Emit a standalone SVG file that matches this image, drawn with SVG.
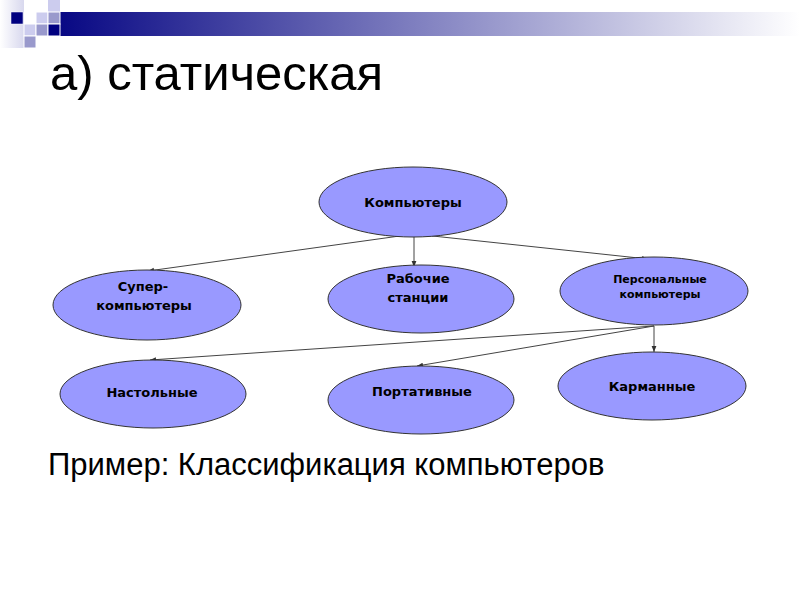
<svg xmlns="http://www.w3.org/2000/svg" width="800" height="600" viewBox="0 0 800 600">
<defs>
<linearGradient id="bar" x1="0" y1="0" x2="1" y2="0">
<stop offset="0" stop-color="#000080"/>
<stop offset="0.5" stop-color="#8080c0"/>
<stop offset="1" stop-color="#ffffff"/>
</linearGradient>
<linearGradient id="fade" x1="0" y1="0" x2="1" y2="0">
<stop offset="0" stop-color="#ffffff"/>
<stop offset="1" stop-color="#d8d8ee"/>
</linearGradient>
<marker id="arr" viewBox="0 0 10 10" refX="10" refY="5" markerWidth="6" markerHeight="6" orient="auto">
<path d="M0,1 L10,5 L0,9 z" fill="#333"/>
</marker>
<style>
.node ellipse{fill:#9999ff;stroke:#333;stroke-width:1}
.node text{font-family:"DejaVu Sans","Noto Sans",sans-serif;font-weight:bold;font-size:13px;fill:#000;text-anchor:middle}
.node text.sm{font-size:11px}
#connectors line{stroke:#444;stroke-width:1;marker-end:url(#arr)}
.title{font-family:"Liberation Sans",Arial,sans-serif;fill:#000}
</style>
</defs>
<rect width="800" height="600" fill="#ffffff"/>
<g id="header">
<rect x="0" y="0" width="24" height="48" fill="url(#fade)"/>
<rect x="36" y="12" width="764" height="24" fill="url(#bar)"/>
<rect x="11" y="12" width="12" height="12" fill="#000080" stroke="#ffffff" stroke-width="0.5"/>
<rect x="48" y="0" width="12" height="12" fill="#ccccee"/>
<rect x="36" y="12" width="12" height="12" fill="#ccccee" stroke="#ffffff" stroke-width="1"/>
<rect x="48" y="12" width="12" height="12" fill="#9999cc" stroke="#ffffff" stroke-width="1"/>
<rect x="24" y="24" width="12" height="12" fill="#ccccee" stroke="#ffffff" stroke-width="1"/>
<rect x="36" y="24" width="12" height="12" fill="#9999cc" stroke="#ffffff" stroke-width="1"/>
<rect x="48" y="24" width="12" height="12" fill="#000080" stroke="#ffffff" stroke-width="1"/>
<rect x="24" y="36" width="12" height="12" fill="#9999cc" stroke="#ffffff" stroke-width="1"/>
</g>
<text class="title" x="50" y="90" font-size="49">а) статическая</text>
<g id="connectors">
<line x1="414" y1="234" x2="148" y2="271"/>
<line x1="414" y1="234" x2="414" y2="267"/>
<line x1="414" y1="234" x2="648" y2="259"/>
<line x1="654" y1="326" x2="150" y2="360"/>
<line x1="654" y1="326" x2="417" y2="366"/>
<line x1="654" y1="326" x2="654" y2="352"/>
</g>
<g id="n-computers" class="node"><ellipse cx="413" cy="202" rx="94" ry="35"/><text x="413" y="207">Компьютеры</text></g>
<g id="n-super" class="node"><ellipse cx="147" cy="305" rx="94" ry="35"/><text x="143" y="291">Супер-</text><text x="144" y="310">компьютеры</text></g>
<g id="n-work" class="node"><ellipse cx="421" cy="299" rx="93" ry="34"/><text x="418" y="283">Рабочие</text><text x="418" y="302">станции</text></g>
<g id="n-pc" class="node"><ellipse cx="654" cy="291" rx="94" ry="34"/><text class="sm" x="660" y="283">Персональные</text><text class="sm" x="660" y="298">компьютеры</text></g>
<g id="n-desk" class="node"><ellipse cx="153" cy="394" rx="93" ry="34"/><text x="152" y="397">Настольные</text></g>
<g id="n-port" class="node"><ellipse cx="421" cy="400" rx="93" ry="34"/><text x="422" y="396">Портативные</text></g>
<g id="n-pocket" class="node"><ellipse cx="652" cy="386" rx="94" ry="34"/><text x="652" y="391">Карманные</text></g>
<text class="title" x="48" y="475" font-size="31">Пример: Классификация компьютеров</text>
</svg>
